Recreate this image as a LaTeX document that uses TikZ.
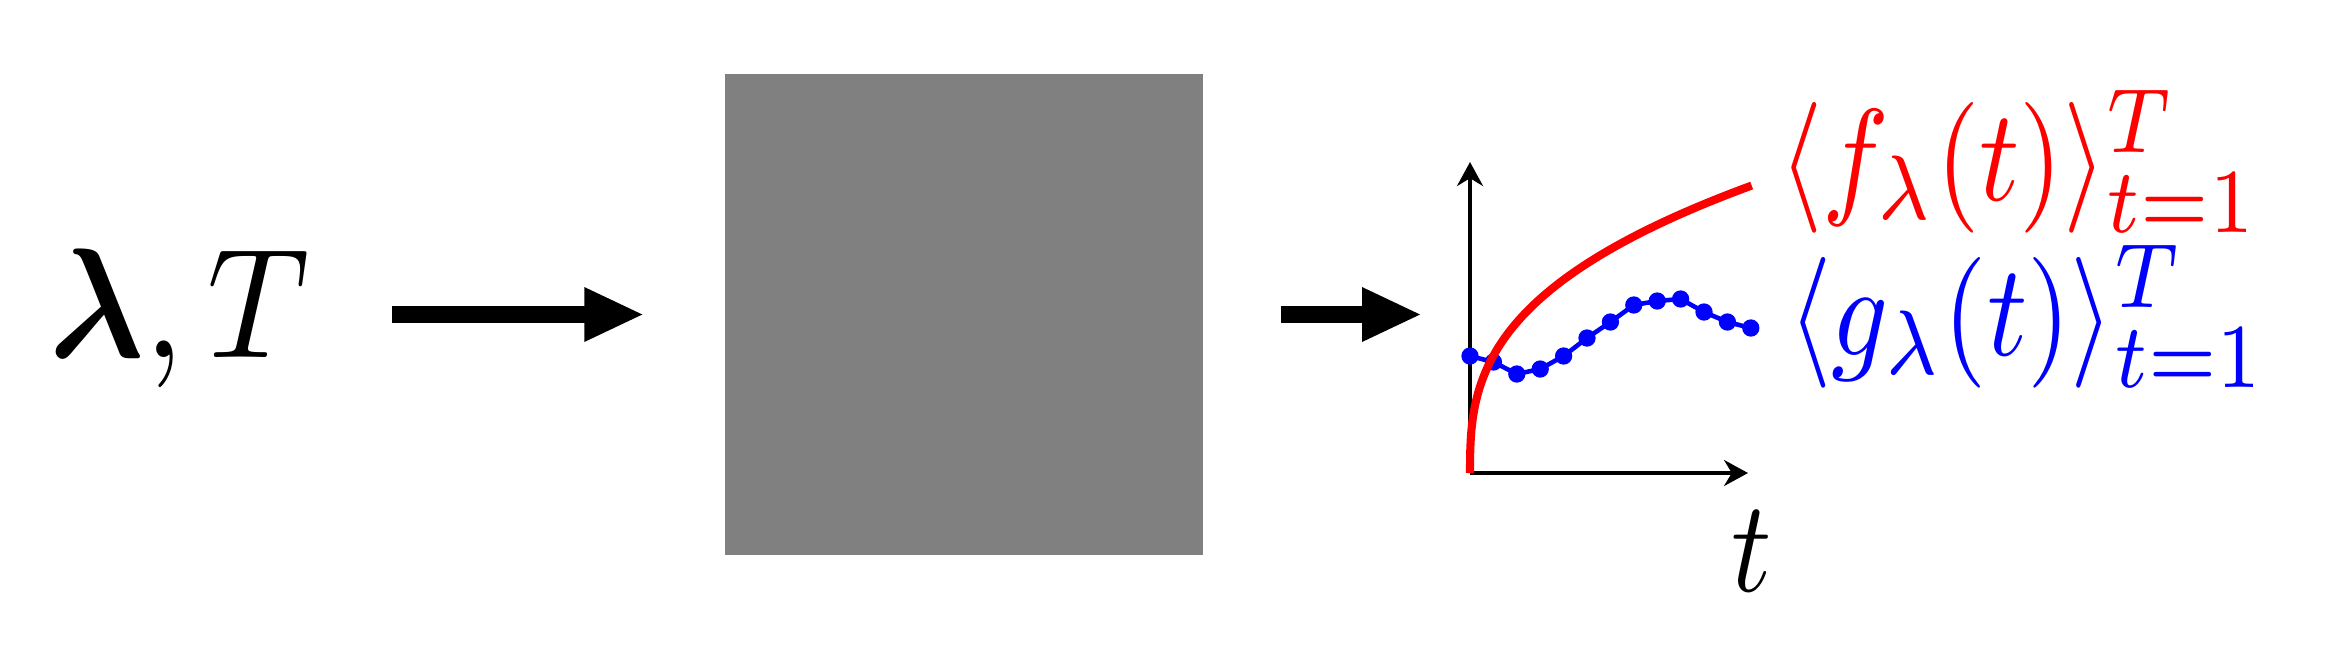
\documentclass[tikz,border=0pt]{standalone}
\usepackage{amsmath,amssymb}
\usepackage{bm}
\usepackage{xcolor}
\usetikzlibrary{arrows.meta}

\begin{document}
\begin{tikzpicture}[
  inlabel/.style={inner sep=0pt, xscale=4.02, yscale=4.45},
  outlabel/.style={inner sep=0pt, xscale=3.18, yscale=3.72},
  blackbox/.style={fill=gray, minimum width=4.78cm, minimum height=4.81cm, inner sep=0pt},
  arr/.style={-{Triangle[length=6mm, width=5mm]}, line width=1.7mm},
  axis/.style={-{Stealth[length=2.4mm, width=2.6mm]}, line width=1pt},
  fline/.style={red, line width=2.3pt},
  gline/.style={blue, line width=1.3pt}]
\useasboundingbox (0,0) rectangle (23.45,6.54);
\node[inlabel, anchor=base west] (in) at (0.47,2.97) {$\bm{\lambda}, T$};
\node[blackbox] (box) at (9.64,3.395) {};
% small plot of the two outputs
\coordinate (o) at (14.70,1.81);
\draw[axis] (o) -- ++(0,3.11) coordinate (ytip);
\draw[axis] (o) -- ++(2.78,0) coordinate (xtip);
\draw[gline] plot[mark=*, mark size=1.8pt] coordinates {
  (14.700,2.98) (14.934,2.92) (15.168,2.80) (15.402,2.85) (15.636,2.98)
  (15.870,3.16) (16.104,3.32) (16.338,3.49) (16.572,3.53) (16.806,3.55)
  (17.040,3.42) (17.274,3.32) (17.508,3.26)};
\draw[fline] (o) -- plot[domain=0.001:1.453, samples=120] ({14.70+\x^2.778}, {1.81+1.98*\x});
\node[outlabel, text=red, anchor=base west] (f) at (17.77,4.54) {$\langle f_\lambda(t)\rangle_{t=1}^T$};
\node[outlabel, text=blue, anchor=base west] (g) at (17.86,2.99) {$\langle g_\lambda(t)\rangle_{t=1}^T$};
\node[outlabel, anchor=base] (t) at (17.52,0.63) {$t$};
\draw[arr, shorten <=0.8cm, shorten >=0.8cm] (in.east |- box.west) -- (box.west);
\draw[arr, shorten <=0.77cm, shorten >=0.48cm] (box.east) -- (box.east -| o);
\end{tikzpicture}
\end{document}
